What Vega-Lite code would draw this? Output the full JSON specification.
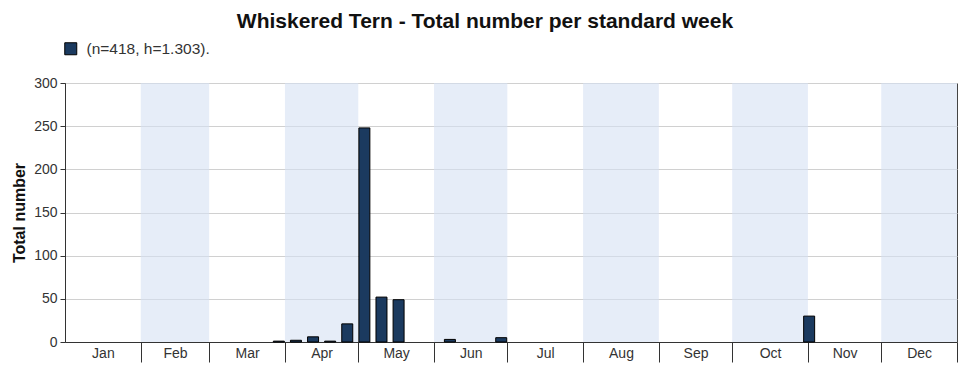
{
  "$schema": "https://vega.github.io/schema/vega-lite/v6.json",
  "width": 892,
  "height": 259,
  "autosize": {"type": "none"},
  "padding": {"left": 65, "top": 83, "right": 16, "bottom": 32},
  "config": {
    "font": "Liberation Sans",
    "view": {"stroke": "#444", "strokeWidth": 1}
  },
  "title": {
    "text": "Whiskered Tern - Total number per standard week",
    "fontSize": 21,
    "fontWeight": "bold",
    "color": "#111",
    "anchor": "middle",
    "dx": -26,
    "offset": 9
  },
  "datasets": {
    "months": [
      {"month": "Jan", "start": 0, "end": 31, "shaded": 0},
      {"month": "Feb", "start": 31, "end": 59, "shaded": 1},
      {"month": "Mar", "start": 59, "end": 90, "shaded": 0},
      {"month": "Apr", "start": 90, "end": 120, "shaded": 1},
      {"month": "May", "start": 120, "end": 151, "shaded": 0},
      {"month": "Jun", "start": 151, "end": 181, "shaded": 1},
      {"month": "Jul", "start": 181, "end": 212, "shaded": 0},
      {"month": "Aug", "start": 212, "end": 243, "shaded": 1},
      {"month": "Sep", "start": 243, "end": 273, "shaded": 0},
      {"month": "Oct", "start": 273, "end": 304, "shaded": 1},
      {"month": "Nov", "start": 304, "end": 334, "shaded": 0},
      {"month": "Dec", "start": 334, "end": 365, "shaded": 1}
    ],
    "weeks": [
      {"week": 13, "count": 1},
      {"week": 14, "count": 2},
      {"week": 15, "count": 6},
      {"week": 16, "count": 1},
      {"week": 17, "count": 21},
      {"week": 18, "count": 248},
      {"week": 19, "count": 52},
      {"week": 20, "count": 49},
      {"week": 23, "count": 3},
      {"week": 26, "count": 5},
      {"week": 44, "count": 30}
    ]
  },
  "layer": [
    {
      "data": {"name": "months"},
      "transform": [{"filter": "datum.shaded == 1"}],
      "mark": {"type": "rect", "fill": "#d6e1f3", "opacity": 0.6},
      "encoding": {
        "x": {
          "field": "start",
          "type": "quantitative",
          "scale": {"domain": [0, 365], "nice": false, "zero": false, "padding": 0},
          "axis": {
            "orient": "bottom",
            "values": [31, 59, 90, 120, 151, 181, 212, 243, 273, 304, 334, 365],
            "labels": false,
            "tickSize": 20,
            "tickColor": "#333",
            "domainColor": "#333",
            "grid": false,
            "title": null
          }
        },
        "x2": {"field": "end"}
      }
    },
    {
      "data": {"name": "weeks"},
      "transform": [{"calculate": "datum.week * 7 - 3.5", "as": "mid"}],
      "mark": {"type": "bar", "width": 11, "stroke": "#000", "strokeWidth": 1},
      "encoding": {
        "x": {
          "field": "mid",
          "type": "quantitative",
          "scale": {"domain": [0, 365], "nice": false, "zero": false, "padding": 0},
          "axis": {
            "orient": "bottom",
            "values": [15.5, 45, 74.5, 105, 135.5, 166, 196.5, 227.5, 258, 288.5, 319, 349.5],
            "labelExpr": "['Jan','Feb','Mar','Apr','May','Jun','Jul','Aug','Sep','Oct','Nov','Dec'][floor(datum.value / 30.5)]",
            "ticks": false,
            "domain": false,
            "grid": false,
            "labelPadding": 4,
            "labelFontSize": 14,
            "labelColor": "#333",
            "title": null
          }
        },
        "y": {
          "field": "count",
          "type": "quantitative",
          "scale": {"domain": [0, 300], "nice": false},
          "axis": {
            "values": [0, 50, 100, 150, 200, 250, 300],
            "title": "Total number",
            "titleFontSize": 16,
            "titleFontWeight": "bold",
            "titleColor": "#111",
            "titlePadding": 6,
            "grid": true,
            "gridColor": "#d0d0d0",
            "tickSize": 5,
            "tickColor": "#333",
            "domainColor": "#333",
            "labelFontSize": 14,
            "labelColor": "#333",
            "labelPadding": 3
          }
        },
        "color": {
          "datum": "(n=418, h=1.303).",
          "type": "nominal",
          "scale": {"range": ["#1b3a5f"]},
          "legend": {
            "orient": "none",
            "legendX": -2,
            "legendY": -42,
            "title": null,
            "symbolType": "square",
            "symbolSize": 144,
            "symbolStrokeColor": "#000",
            "symbolStrokeWidth": 1,
            "symbolFillColor": "#1b3a5f",
            "labelFontSize": 15.5,
            "labelColor": "#333",
            "labelOffset": 8,
            "padding": 0
          }
        }
      }
    }
  ],
  "resolve": {"axis": {"x": "independent"}}
}
